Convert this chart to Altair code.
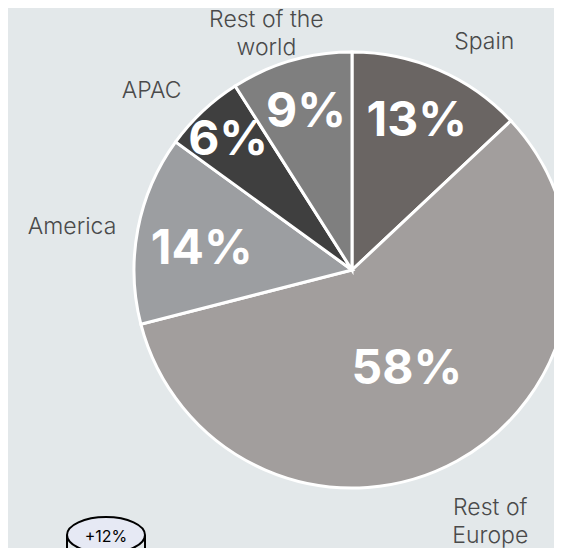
import altair as alt
import pandas as pd

# ---- data ----
regions = ["Spain", "Rest of Europe", "America", "APAC", "Rest of the world"]
shares = [13, 58, 14, 6, 9]
outer_labels = ["Spain", "Rest of\nEurope", "America", "APAC", "Rest of the\nworld"]
colors = ["#6a6563", "#a29e9d", "#9c9ea1", "#3f3f3f", "#7f7f7f"]
badge_text = ["+12%"]

BG = "#e3e8ea"
CX, CY, R = 344, 262, 218

df = pd.DataFrame({
    "region": regions,
    "share": shares,
    "order": list(range(len(regions))),
    "outer": outer_labels,
})

pie = alt.Chart(df).mark_arc(x=CX, y=CY, outerRadius=R, stroke="white", strokeWidth=3).encode(
    theta=alt.Theta("share:Q", stack=True),
    order=alt.Order("order:Q"),
    color=alt.Color("region:N", scale=alt.Scale(domain=regions, range=colors), legend=None),
)


def pick(vals):
    # layout lookup by region, as a Vega expression
    expr = str(vals[-1])
    for reg, v in reversed(list(zip(regions[:-1], vals[:-1]))):
        expr = f"datum.region == '{reg}' ? {v} : ({expr})"
    return expr


lab = alt.Chart(df).transform_joinaggregate(
    total="sum(share)"
).transform_window(
    cum="sum(share)", sort=[alt.SortField("order")], frame=[None, 0]
).transform_calculate(
    pct="datum.share + '%'",
    mid="2 * PI * (datum.cum - datum.share / 2) / datum.total",
    inr=pick([163, 114, 153, 181, 165]),
    outr=pick([250, 287, 285, 268, 253]),
)

inner = lab.mark_text(
    x=CX, y=CY, font="Inter", fontWeight=700, fontSize=48, color="white",
    align="center", baseline="middle",
    dy=alt.expr(pick([2, 0, 9, 3, 1])),
).encode(
    text="pct:N",
    theta=alt.Theta("mid:Q", scale=None, stack=None),
    radius=alt.Radius("inr:Q", scale=None),
)

outer = lab.mark_text(
    x=CX, y=CY, font="Inter", fontWeight=300, fontSize=23, color="#4a4a4a",
    align="center", baseline="middle", lineBreak="\n", lineHeight=28,
    dx=alt.expr(pick([33, 0, 0, -17, -15])),
    dy=alt.expr(pick([1, -14, 10, 16, -7])),
).encode(
    text="outer:N",
    theta=alt.Theta("mid:Q", scale=None, stack=None),
    radius=alt.Radius("outr:Q", scale=None),
)

badge_df = pd.DataFrame({"t": badge_text})
badge_base = alt.Chart(badge_df)
side_l = badge_base.mark_rule(color="black", strokeWidth=2).encode(
    x=alt.value(59), y=alt.value(527), y2=alt.value(560))
side_r = badge_base.mark_rule(color="black", strokeWidth=2).encode(
    x=alt.value(137), y=alt.value(527), y2=alt.value(560))
ellipse = badge_base.mark_point(
    shape="M -1 0 A 1 0.46 0 1 1 1 0 A 1 0.46 0 1 1 -1 0 Z",
    filled=True, fill="#e6e9f4", stroke="black", strokeWidth=2, opacity=1,
    size=6084,
).encode(x=alt.value(98), y=alt.value(527))
badge_txt = badge_base.mark_text(
    font="Inter", fontSize=16, color="black", align="center", baseline="middle"
).encode(text="t:N", x=alt.value(98), y=alt.value(529))

chart = alt.layer(pie, inner, outer, side_l, side_r, ellipse, badge_txt).properties(
    width=546, height=540,
    autosize=alt.AutoSizeParams(type="none"),
    padding=0,
    background=BG,
).configure_view(stroke=None)

chart.save("out.html", embed_options={"renderer": "svg", "actions": False})
